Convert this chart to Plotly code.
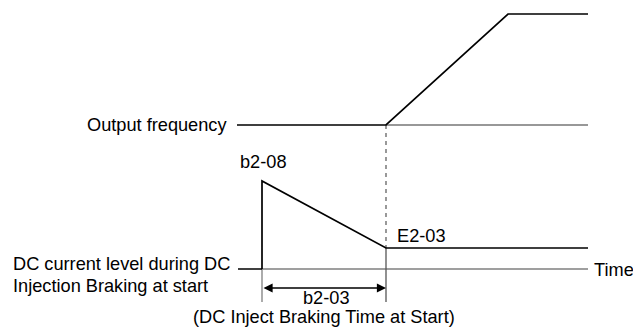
import plotly.graph_objects as go

# Diagram geometry in picture units (x to the right, y downward)
freq_x = [237, 386, 508, 588]
freq_y = [125, 125, 14, 14]
freq_ref_x = [386, 588]
freq_ref_y = [125, 125]

dc_x = [262, 262, 386, 588]
dc_y = [269, 181, 248, 248]

leader_x = [238, 262]
leader_y = [269, 269]
time_axis_x = [262, 588]
time_axis_y = [269, 269]

ext_left_x = [262, 262]
ext_left_y = [269, 302]
ext_right_x = [386, 386]
ext_right_y = [248, 302]

dash_x = [386, 386]
dash_y = [125, 248]

dim_x = [262, 386]
dim_y = 288

FONT = dict(family="Liberation Sans, Arial, sans-serif", size=18.2, color="#000000")
BLACK = "#000000"
GRAY = "#7f7f7f"

fig = go.Figure()


def seg(x, y, color, width, dash="solid"):
    fig.add_trace(go.Scatter(
        x=x, y=y, mode="lines",
        line=dict(color=color, width=width, dash=dash),
        hoverinfo="skip", showlegend=False,
    ))


# reference / dimension lines
seg(time_axis_x, time_axis_y, GRAY, 1.3)
seg(ext_left_x, ext_left_y, GRAY, 1.3)
seg(ext_right_x, ext_right_y, "#555555", 1.3)
seg(freq_ref_x, freq_ref_y, "#333333", 1.1)
seg(dash_x, dash_y, "#555555", 1.2, dash="4px,4px")

# signals
seg(freq_x, freq_y, BLACK, 1.7)
seg(dc_x, dc_y, BLACK, 1.7)
seg(leader_x, leader_y, BLACK, 1.5)

# dimension arrow b2-03
fig.add_annotation(
    x=dim_x[1], y=dim_y, ax=dim_x[0], ay=dim_y,
    xref="x", yref="y", axref="x", ayref="y",
    text="", showarrow=True, arrowhead=2, arrowside="end+start",
    arrowsize=1.4, arrowwidth=1.3, arrowcolor=BLACK,
)

labels = [
    ("Output frequency", 229, 125, "right"),
    ("b2-08", 263, 162, "center"),
    ("E2-03", 395, 236, "left"),
    ("DC current level during DC", 11, 264, "left"),
    ("Injection Braking at start", 11, 286, "left"),
    ("Time", 592, 270, "left"),
    ("b2-03", 326, 298, "center"),
    ("(DC Inject Braking Time at Start)", 324, 317, "center"),
]
for text, x, y, anchor in labels:
    fig.add_annotation(
        x=x, y=y, xref="x", yref="y", text=text, showarrow=False,
        xanchor=anchor, yanchor="middle", font=FONT,
    )

fig.update_layout(
    width=633,
    height=328,
    margin=dict(l=0, r=0, t=0, b=0),
    paper_bgcolor="white",
    plot_bgcolor="white",
    xaxis=dict(range=[0, 633], visible=False, fixedrange=True),
    yaxis=dict(range=[328, 0], visible=False, fixedrange=True),
)

fig.write_html(
    "out.html",
    config={"displayModeBar": False},
    post_script="document.body.style.margin='0';document.body.style.overflow='hidden';",
)
